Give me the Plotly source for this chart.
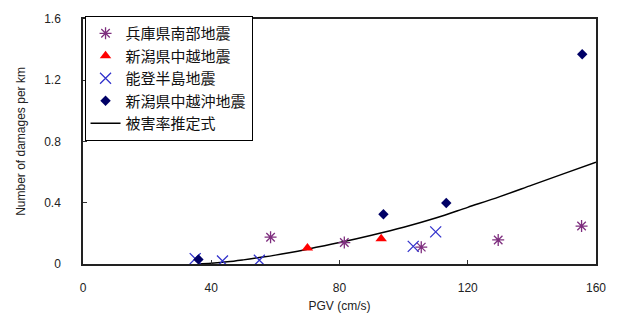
import plotly.graph_objects as go

# Data
hyogo_x = [58.5, 81.5, 105.5, 129.5, 155.5]
hyogo_y = [0.175, 0.14, 0.11, 0.157, 0.248]

chuetsu_x = [70.0, 93.0]
chuetsu_y = [0.105, 0.165]

noto_x = [35.0, 43.5, 55.0, 103.0, 110.0]
noto_y = [0.035, 0.02, 0.025, 0.115, 0.21]

chuetsuoki_x = [36.0, 93.7, 113.3, 155.7]
chuetsuoki_y = [0.03, 0.325, 0.398, 1.37]

curve_x = [36, 40, 45, 50, 55, 60, 70, 80, 90, 100, 110, 120, 130, 140, 150, 160]
curve_y = [0, 0.005, 0.014, 0.027, 0.042, 0.058, 0.097, 0.14, 0.188, 0.24, 0.30, 0.37, 0.44, 0.515, 0.59, 0.665]

names = ["兵庫県南部地震", "新潟県中越地震", "能登半島地震", "新潟県中越沖地震", "被害率推定式"]

x_ticks = [0, 40, 80, 120, 160]
y_ticks = [0, 0.4, 0.8, 1.2, 1.6]
y_tick_text = ["0", "0.4", "0.8", "1.2", "1.6"]

fig = go.Figure()

fig.add_trace(go.Scatter(
    x=curve_x, y=curve_y, mode="lines", name=names[4],
    line=dict(color="black", width=1.5, shape="spline"),
    legendgroup="e", legendrank=5, showlegend=True))

fig.add_trace(go.Scatter(
    x=hyogo_x, y=hyogo_y, mode="markers", name=names[0],
    marker=dict(symbol="asterisk-open", size=10, color="#7F2F7F",
                line=dict(color="#7F2F7F", width=1.3)),
    legendgroup="a", legendrank=1))

fig.add_trace(go.Scatter(
    x=chuetsu_x, y=chuetsu_y, mode="markers", name=names[1],
    marker=dict(symbol="triangle-up", size=10, color="#FF0000"),
    legendgroup="b", legendrank=2))

fig.add_trace(go.Scatter(
    x=noto_x, y=noto_y, mode="markers", name=names[2],
    marker=dict(symbol="x-thin-open", size=11, color="#3333CC",
                line=dict(color="#3333CC", width=1.3)),
    legendgroup="c", legendrank=3))

fig.add_trace(go.Scatter(
    x=chuetsuoki_x, y=chuetsuoki_y, mode="markers", name=names[3],
    marker=dict(symbol="diamond", size=8, color="#000066"),
    legendgroup="d", legendrank=4))

fig.update_layout(
    width=627, height=325,
    margin=dict(l=83, r=31, t=12, b=61),
    paper_bgcolor="white", plot_bgcolor="white",
    font=dict(family="Liberation Sans, Arial, sans-serif", size=12, color="#222"),
    legend=dict(
        x=0.003, y=1.012, xanchor="left", yanchor="top",
        bgcolor="white", bordercolor="black", borderwidth=1,
        font=dict(family="Noto Sans CJK JP, sans-serif", size=15, color="#111"),
        tracegroupgap=3, traceorder="normal", itemwidth=30,
        entrywidth=150, entrywidthmode="pixels"),
    xaxis=dict(
        range=[0, 160], tickvals=x_ticks, ticks="inside", ticklen=4,
        tickcolor="#333", showgrid=False, zeroline=False,
        showline=True, linecolor="#222", linewidth=1.5, mirror=True,
        ticklabelstandoff=12,
        title=dict(text="PGV (cm/s)", font=dict(size=12), standoff=7)),
    yaxis=dict(
        range=[0, 1.6], tickvals=y_ticks, ticktext=y_tick_text,
        ticks="inside", ticklen=4, tickcolor="#333",
        showgrid=False, zeroline=False,
        showline=True, linecolor="#222", linewidth=1.5, mirror=True,
        ticklabelstandoff=18,
        title=dict(text="Number of damages per km", font=dict(size=12), standoff=16)),
)

fig.write_html("out.html")
